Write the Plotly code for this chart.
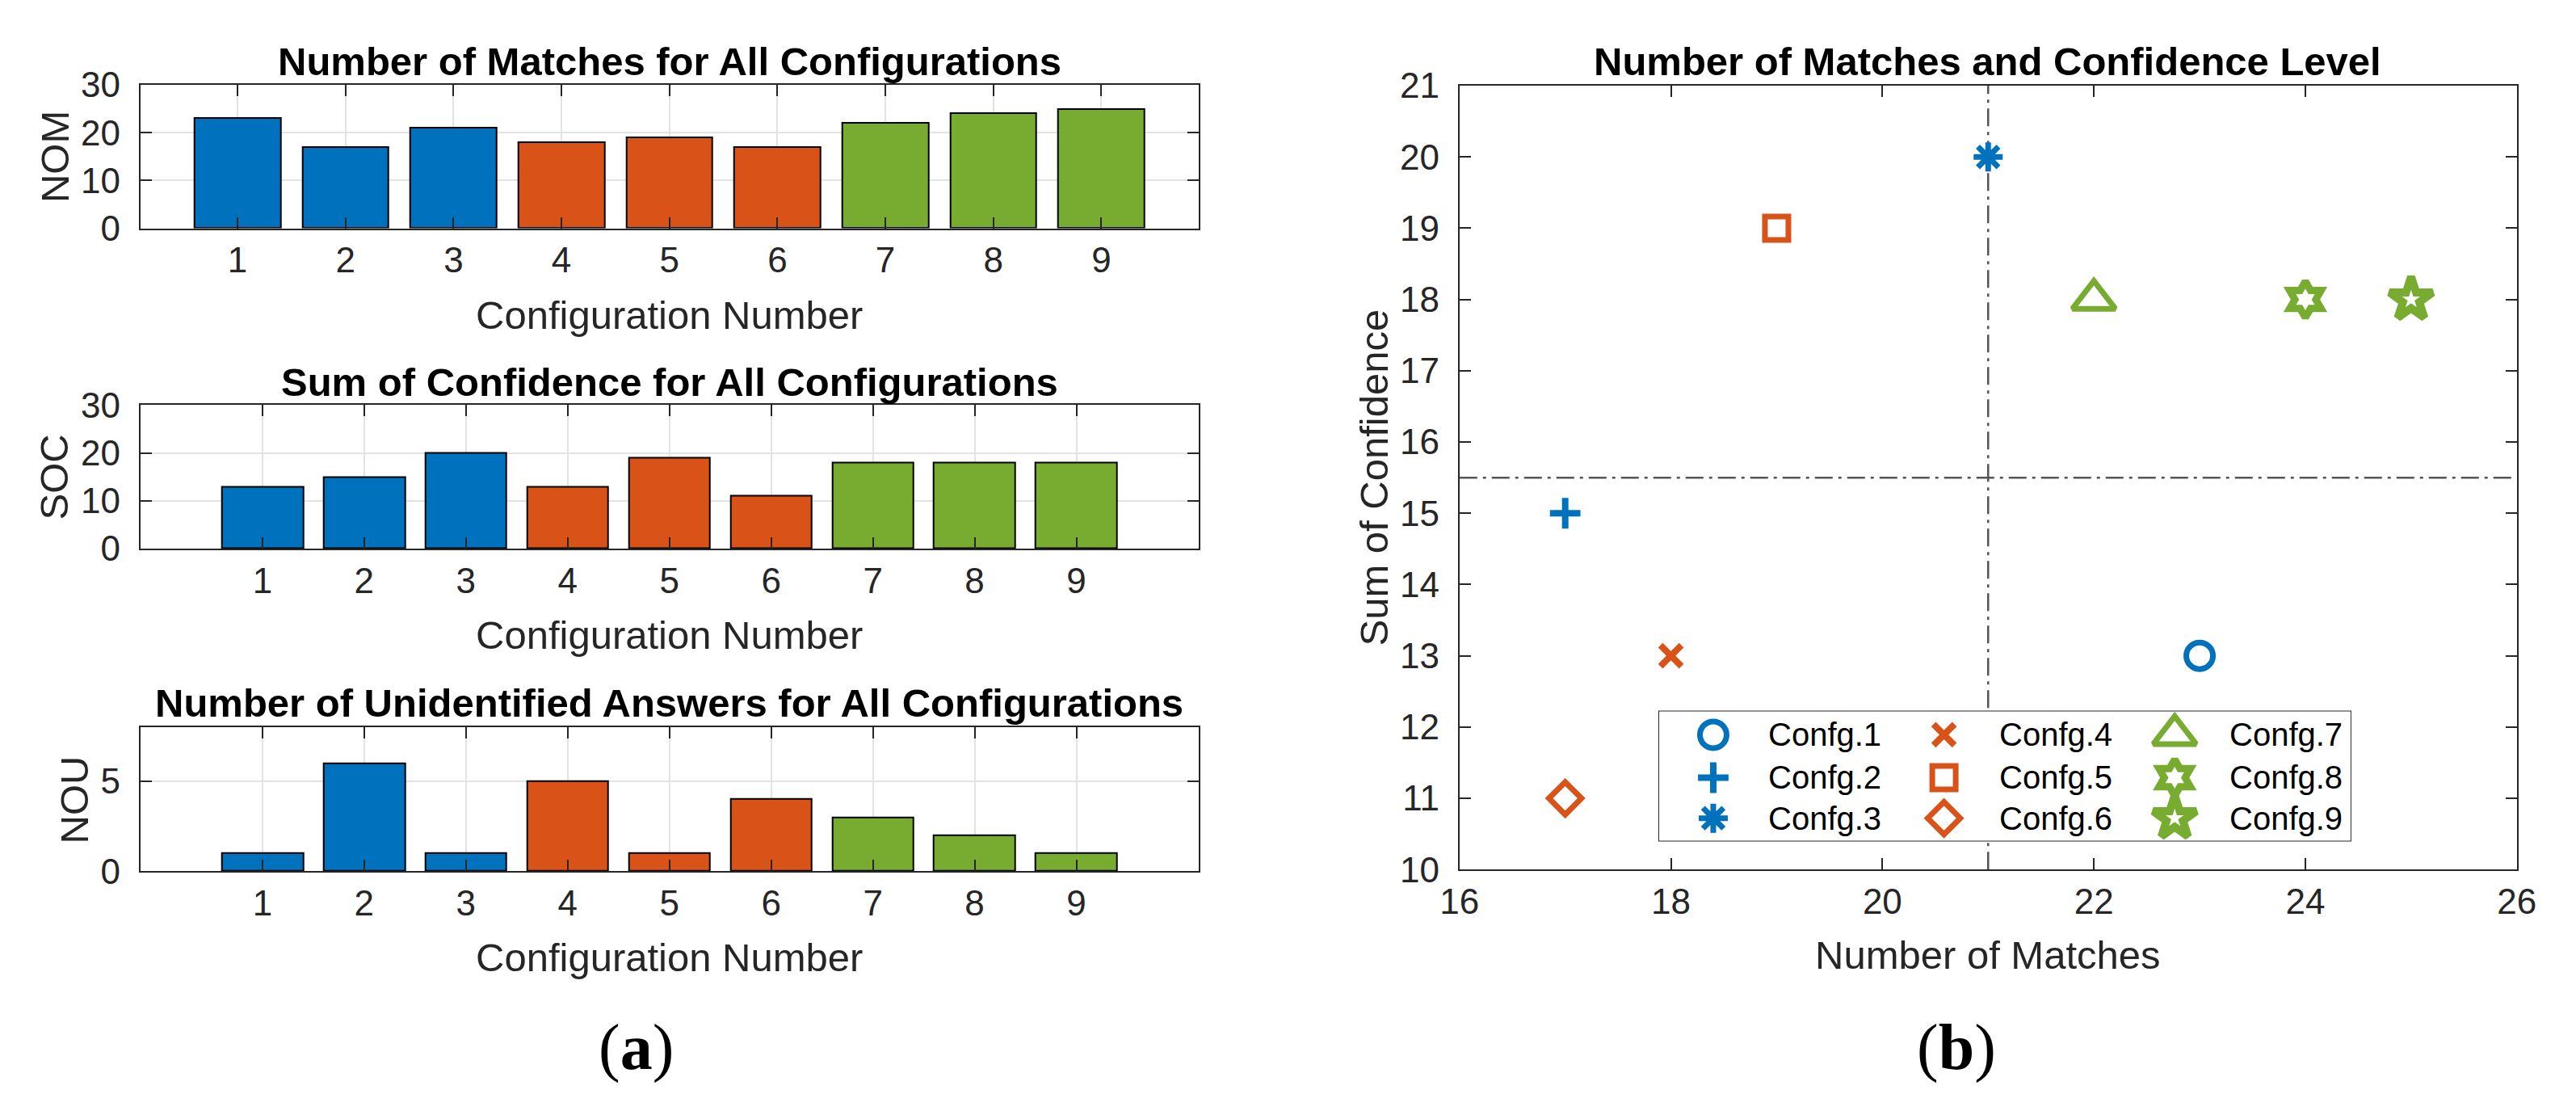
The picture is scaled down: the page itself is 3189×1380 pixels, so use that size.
import plotly.graph_objects as go

W, H = 3189, 1380

# ---------------- data ----------------
config_numbers = [1, 2, 3, 4, 5, 6, 7, 8, 9]
config_labels = ["Confg.1", "Confg.2", "Confg.3", "Confg.4", "Confg.5",
                 "Confg.6", "Confg.7", "Confg.8", "Confg.9"]
nom = [23, 17, 21, 18, 19, 17, 22, 24, 25]   # Number of Matches
soc = [13, 15, 20, 13, 19, 11, 18, 18, 18]   # Sum of Confidence
nou = [1, 6, 1, 5, 1, 4, 3, 2, 1]            # Number of Unidentified answers
config_group = [0, 0, 0, 1, 1, 1, 2, 2, 2]
nom_split = 21       # vertical divider (Number of Matches)
soc_split = 15.5     # horizontal divider (Sum of Confidence)

# ---------------- styles ----------------
group_colors = ["#0072BD", "#D95319", "#77AC30"]
symbols = ["circle-open", "cross-thin-open", "asterisk-open", "x-thin-open",
           "square-open", "diamond-open", "triangle-up-open",
           "hexagram-open", "star-open"]
sizes = [33, 27, 30, 26, 29, 31, 46, 34, 40]
lws = [7, 8, 7, 8, 7, 7, 7, 9, 10]

FONT = "Liberation Sans, Arial, sans-serif"
AX = "#262626"
GRID = "#e3e3e3"


def px_x(p):
    return p / W


def px_y(p):
    return 1 - p / H


fig = go.Figure()

bar_colors = [group_colors[g] for g in config_group]
bar_panels = [("x", "y", nom), ("x2", "y2", soc), ("x3", "y3", nou)]
for xa, ya, vals in bar_panels:
    fig.add_trace(go.Bar(
        x=config_numbers, y=vals, width=0.8,
        marker=dict(color=bar_colors, line=dict(color="black", width=2)),
        xaxis=xa, yaxis=ya, showlegend=False))

# divider lines in the scatter panel (behind the points)
x4_range = [16, 26]
y4_range = [10, 21]
line_style = dict(color="#555555", width=2.5, dash="22px,7px,4px,7px")
fig.add_trace(go.Scatter(x=[nom_split, nom_split], y=y4_range, mode="lines",
                         line=line_style, xaxis="x4", yaxis="y4", showlegend=False,
                         hoverinfo="skip"))
fig.add_trace(go.Scatter(x=x4_range, y=[soc_split, soc_split], mode="lines",
                         line=line_style, xaxis="x4", yaxis="y4", showlegend=False,
                         hoverinfo="skip"))

for i in range(9):
    c = group_colors[config_group[i]]
    fig.add_trace(go.Scatter(
        x=[nom[i]], y=[soc[i]], mode="markers", name=config_labels[i],
        marker=dict(symbol=symbols[i], size=sizes[i], color=c,
                    line=dict(color=c, width=lws[i])),
        xaxis="x4", yaxis="y4", showlegend=False))

# ---------------- legend box (own small axes, 3 columns) ----------------
LEG_W, LEG_H = 871, 168
fig.add_trace(go.Scatter(x=[0, LEG_W, LEG_W, 0, 0], y=[0, 0, LEG_H, LEG_H, 0],
                         mode="lines", fill="toself", fillcolor="white",
                         line=dict(color=AX, width=2), xaxis="x5", yaxis="y5",
                         showlegend=False, hoverinfo="skip"))
col_w = 290
row_pos = [31, 86, 138]
annotations = []
for i in range(9):
    col, row = i // 3, i % 3
    c = group_colors[config_group[i]]
    fig.add_trace(go.Scatter(
        x=[col * col_w + 69], y=[row_pos[row]], mode="markers",
        marker=dict(symbol=symbols[i], size=sizes[i], color=c,
                    line=dict(color=c, width=lws[i])),
        xaxis="x5", yaxis="y5", showlegend=False, hoverinfo="skip"))
    annotations.append(dict(x=col * col_w + 136, y=row_pos[row], xref="x5", yref="y5",
                            text=config_labels[i], showarrow=False, xanchor="left",
                            yanchor="middle", font=dict(family=FONT, size=40, color="black")))


def axis(domain, anchor, **kw):
    d = dict(domain=domain, anchor=anchor, showline=True, linecolor=AX, linewidth=2,
             mirror="allticks", ticks="inside", ticklen=14, tickwidth=2, tickcolor=AX,
             zeroline=False, tickfont=dict(family=FONT, size=44, color=AX))
    d.update(kw)
    return d


XSTAND = 0
YSTAND = 14
LEFT = [px_x(152), px_x(1482)]
panels_y = [(83, 267), (494, 678), (907, 1092)]
layout_axes = {}
xr = [[0.1, 9.9], [-0.2, 10.2], [-0.2, 10.2]]
yr = [[0, 30], [0, 30], [0, 8]]
ytv = [[0, 10, 20, 30], [0, 10, 20, 30], [0, 5]]
for k in range(3):
    sx = "" if k == 0 else str(k + 1)
    t, b = panels_y[k]
    layout_axes["xaxis" + sx] = axis(LEFT, "y" + sx, range=xr[k], tickvals=config_numbers,
                                     showgrid=True, gridcolor=GRID, gridwidth=2,
                                     ticklabelstandoff=XSTAND)
    layout_axes["yaxis" + sx] = axis([px_y(b), px_y(t)], "x" + sx, range=yr[k],
                                     tickvals=ytv[k], showgrid=True, gridcolor=GRID,
                                     gridwidth=2, ticklabelstandoff=YSTAND)

layout_axes["xaxis4"] = axis([px_x(1810), px_x(3139)], "y4", range=x4_range, dtick=2,
                             tick0=16, showgrid=False, ticklabelstandoff=XSTAND)
layout_axes["yaxis4"] = axis([px_y(1090), px_y(84)], "x4", range=y4_range, dtick=1,
                             tick0=10, showgrid=False, ticklabelstandoff=YSTAND)
layout_axes["xaxis5"] = dict(domain=[px_x(2060), px_x(2060 + LEG_W)], anchor="y5",
                             range=[0, LEG_W], visible=False, fixedrange=True)
layout_axes["yaxis5"] = dict(domain=[px_y(886 + LEG_H), px_y(886)], anchor="x5",
                             range=[LEG_H, 0], visible=False, fixedrange=True)


def txt(x, y, s, size, angle=0, family=FONT, color=AX):
    return dict(x=px_x(x), y=px_y(y), xref="paper", yref="paper", text=s,
                showarrow=False, xanchor="center", yanchor="middle", textangle=angle,
                font=dict(family=family, size=size, color=color))


SERIF = "Liberation Serif, Times New Roman, serif"
annotations += [
    txt(817, 53, "<b>Number of Matches for All Configurations</b>", 49, color="black"),
    txt(817, 465, "<b>Sum of Confidence for All Configurations</b>", 49, color="black"),
    txt(817, 876, "<b>Number of Unidentified Answers for All Configurations</b>", 49, color="black"),
    txt(2474, 53, "<b>Number of Matches and Confidence Level</b>", 49, color="black"),
    txt(817, 378, "Configuration Number", 49),
    txt(817, 789, "Configuration Number", 49),
    txt(817, 1203, "Configuration Number", 49),
    txt(2474, 1200, "Number of Matches", 49),
    txt(44, 175, "NOM", 49, angle=-90),
    txt(44, 586, "SOC", 49, angle=-90),
    txt(70, 1000, "NOU", 49, angle=-90),
    txt(1703, 587, "Sum of Confidence", 49, angle=-90),
    txt(775, 1318, "(<b>a</b>)", 80, family=SERIF, color="black"),
    txt(2435, 1318, "(<b>b</b>)", 80, family=SERIF, color="black"),
]

fig.update_layout(
    width=W, height=H, margin=dict(l=0, r=0, t=0, b=0, pad=0),
    paper_bgcolor="white", plot_bgcolor="white", showlegend=False,
    annotations=annotations, bargap=0, **layout_axes)

fig.write_html("out.html", config={"displayModeBar": False},
               post_script="document.body.style.margin='0';document.body.style.overflow='hidden';")
